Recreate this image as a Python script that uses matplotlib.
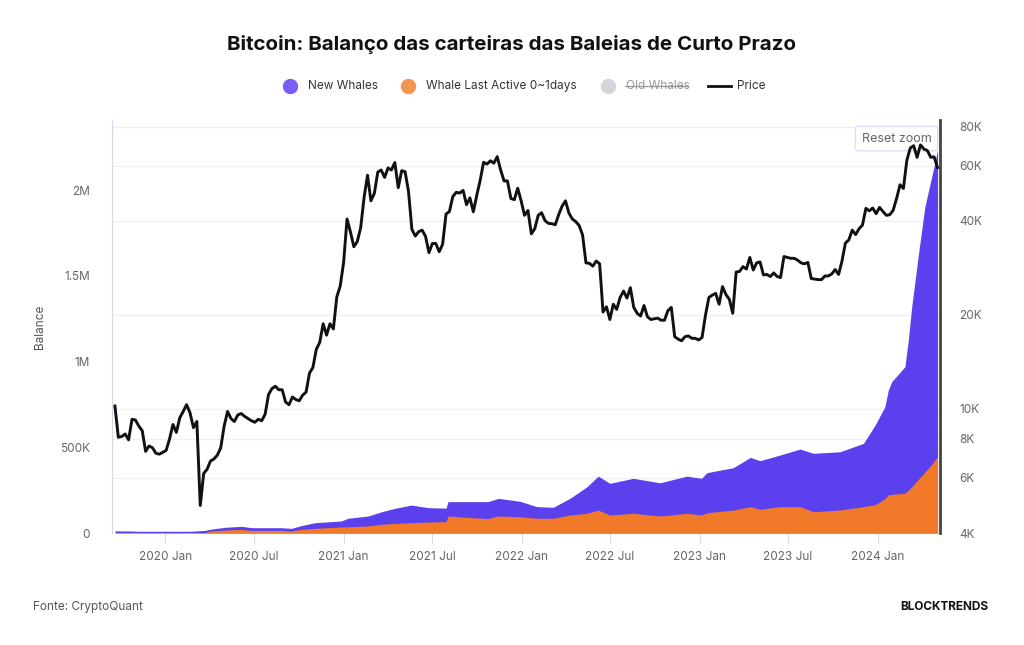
import pandas as pd
import numpy as np
import matplotlib
matplotlib.use("Agg")
import matplotlib.pyplot as plt
from matplotlib.lines import Line2D

plt.rcParams['font.family'] = ['Inter', 'DejaVu Sans']

# preço do BTC, semanal, a partir de 2019-09-20
price = [
    # 2019 set-dez
    10200, 8100, 8150, 8300, 7950, 9250, 9200, 8800, 8500, 7300, 7600, 7500, 7200, 7150, 7250,
    # 2020
    7350, 8000, 8900, 8400, 9350,
    9800, 10300, 9700, 8700,
    9100, 4900, 6200, 6400,
    6800, 6900, 7100, 7500,
    8800, 9800, 9300, 9100, 9550,
    9650, 9450, 9300, 9150,
    9050, 9250, 9150, 9600, 11100,
    11600, 11800, 11500, 11500,
    10500, 10300, 10900, 10700,
    10600, 11050, 11300, 13000, 13550,
    15500, 16300, 18700, 17200,
    18700, 18000, 22800, 24700,
    # 2021
    29400, 40500, 36800, 33000, 34300,
    38000, 47500, 55900, 46300,
    48900, 57200, 58100, 55000,
    59000, 58100, 61400, 51000, 57800,
    57400, 49700, 37500, 35700,
    36900, 37300, 35600, 31600,
    33800, 33800, 31800, 33600, 42000,
    42800, 47800, 49300, 49000,
    50000, 45000, 47300, 42700,
    48200, 53800, 61500, 60700, 62200,
    61100, 64100, 58100, 53600,
    53600, 47100, 46700, 50800, 46300,
    # 2022
    41600, 43100, 36300, 37700,
    41600, 42400, 40000, 39200,
    39100, 38800, 41800, 44500,
    46300, 42300, 40500, 39700, 38600,
    36000, 29300, 29200, 28600,
    29700, 29100, 20400, 21200,
    19300, 21600, 20800, 22700, 23800,
    22600, 24400, 21100, 20200,
    19800, 21400, 19700, 19300, 19400,
    19500, 19200, 19200, 20600,
    21100, 17000, 16700, 16500,
    17000, 17100, 16800, 16800, 16600,
    # 2023
    16900, 19900, 22700, 23100,
    23400, 21600, 24600, 23200,
    22400, 20200, 27400, 27500, 28500,
    28000, 30500, 27800, 29300,
    29500, 26800, 26900, 26500,
    27200, 26500, 26300, 30700, 30500,
    30300, 30300, 29900, 29300,
    29100, 29400, 26100, 26000,
    25900, 25900, 26600, 26600, 27000,
    27900, 26900, 29700, 33900,
    34700, 37300, 36100, 37700,
    38700, 43800, 43000, 43900, 42100,
    # 2024
    44100, 42800, 41600, 41800,
    43200, 47100, 52100, 50700,
    62400, 68300, 69500, 63800, 69900,
    67800, 67100, 63800, 64000, 59100,
]
price_dates = pd.date_range("2019-09-20", periods=len(price), freq="7D")

# saldo (BTC)
bal_dates = pd.to_datetime([
    "2019-09-20", "2019-10-21", "2019-11-07", "2020-02-20", "2020-03-22", "2020-04-05",
    "2020-05-02", "2020-06-05", "2020-06-26", "2020-08-26", "2020-09-16", "2020-10-06",
    "2020-11-03", "2020-12-27", "2021-01-10", "2021-02-20", "2021-03-20", "2021-04-16",
    "2021-05-20", "2021-06-23", "2021-07-30", "2021-08-03", "2021-09-13", "2021-10-24",
    "2021-11-14", "2021-12-29", "2022-02-01", "2022-03-07", "2022-04-10", "2022-05-15",
    "2022-06-07", "2022-07-01", "2022-08-18", "2022-10-12", "2022-12-06", "2023-01-05",
    "2023-01-16", "2023-03-11", "2023-04-15", "2023-05-05", "2023-06-15", "2023-07-26",
    "2023-08-22", "2023-10-16", "2023-12-03", "2023-12-27", "2024-01-16", "2024-01-23",
    "2024-01-30", "2024-02-26", "2024-03-04", "2024-03-11", "2024-03-25", "2024-04-07",
    "2024-04-21", "2024-05-03",
])
whale_0_1d = [
    0, 0, 0, 0, 3, 12, 17, 21, 15, 15, 12, 21,
    27, 35, 36, 41, 51, 56, 60, 64, 66, 99, 91, 84,
    99, 95, 86, 86, 105, 115, 134, 105, 115, 99, 115, 105,
    118, 134, 154, 138, 154, 154, 124, 134, 154, 165, 200, 222,
    225, 232, 250, 270, 315, 355, 400, 445,
]
new_whales = [
    12, 12, 10, 10, 12, 11, 16, 18, 16, 16, 15, 22,
    33, 35, 50, 58, 73, 88, 103, 84, 79, 84, 92, 99,
    103, 90, 68, 64, 97, 155, 198, 185, 204, 194, 217, 214,
    234, 247, 287, 284, 301, 336, 341, 340, 369, 465, 537, 612,
    658, 738, 876, 1050, 1317, 1549, 1679, 1789,
]

orange = np.array(whale_0_1d) * 1000
purple = orange + np.array(new_whales) * 1000

fig = plt.figure(figsize=(10.24, 6.45), dpi=100)
ax = fig.add_axes([112 / 1024, 1 - 533 / 645, 828 / 1024, 413 / 645])
axp = ax.twinx()

bal_top = 2.41e6
p_lo, p_hi = 4000, 84000
p_ticks = [4000, 6000, 8000, 10000, 20000, 40000, 60000, 80000]

# linhas de grade da escala do preço, por trás das barras
for t in p_ticks[1:]:
    ax.axhline(bal_top * np.log(t / p_lo) / np.log(p_hi / p_lo), color='#f0f0f3', lw=1, zorder=0)

ax.fill_between(bal_dates, 0, purple, color='#5b41ee', lw=0, zorder=2)
ax.fill_between(bal_dates, 0, orange, color='#f07a2a', lw=0, zorder=3)

axp.plot(price_dates, price, color='#111111', lw=2.1, zorder=5)
axp.set_yscale('log')
axp.set_ylim(p_lo, p_hi)
axp.set_yticks(p_ticks)
axp.set_yticklabels(['4K', '6K', '8K', '10K', '20K', '40K', '60K', '80K'])
axp.yaxis.set_minor_locator(plt.NullLocator())

ax.set_ylim(0, bal_top)
ax.set_yticks([0, 500000, 1000000, 1500000, 2000000])
ax.set_yticklabels(['0', '500K', '1M', '1.5M', '2M'])
ax.set_xlim(pd.Timestamp("2019-09-14"), pd.Timestamp("2024-05-08"))
xt = pd.to_datetime(["2020-01-01", "2020-07-01", "2021-01-01", "2021-07-01", "2022-01-01",
                     "2022-07-01", "2023-01-01", "2023-07-01", "2024-01-01"])
ax.set_xticks(xt)
ax.set_xticklabels([d.strftime("%Y %b") for d in xt])
ax.set_ylabel("Balance", color='#555555', fontsize=8.5, labelpad=10)

ax.tick_params(axis='y', length=0, labelcolor='#666666', labelsize=8.5, pad=16)
ax.tick_params(axis='x', length=7, color='#d9d9e3', labelcolor='#666666', labelsize=8.5, pad=6)
axp.tick_params(axis='y', length=0, labelcolor='#666666', labelsize=8.5, pad=14)

for a in (ax, axp):
    for s in a.spines.values():
        s.set_visible(False)
    a.patch.set_visible(False)
ax.spines['left'].set_visible(True)
ax.spines['left'].set_color('#d6d6e6')
axp.spines['right'].set_visible(True)
axp.spines['right'].set_color('#444444')
axp.spines['right'].set_linewidth(2)

# botão "Reset zoom"
axp.text(0.9475, 0.955, "Reset zoom", transform=ax.transAxes, ha='center', va='center',
         fontsize=9, color='#666666', zorder=1,
         bbox=dict(boxstyle='round,pad=0.5,rounding_size=0.2', fc='white', ec='#dcdff5', lw=1))

fig.text(0.5, 1 - 44 / 645, "Bitcoin: Balanço das carteiras das Baleias de Curto Prazo",
         ha='center', va='center', fontsize=14.8, fontweight='bold', color='#111111')

# legenda
ly = 1 - 86 / 645
items = [(290, '#7b5cf5', 'New Whales'), (408, '#f29452', 'Whale Last Active 0~1days'),
         (608, '#d4d4dd', 'Old Whales')]
for px, c, lab in items:
    fig.add_artist(Line2D([px / 1024], [ly], marker='o', ms=10, color=c, mec=c, lw=0))
    txt_col = '#999999' if lab == 'Old Whales' else '#333333'
    fig.text((px + 18) / 1024, ly, lab, ha='left', va='center', fontsize=8.5, color=txt_col)
fig.add_artist(Line2D([625 / 1024, 688 / 1024], [ly, ly], color='#999999', lw=0.9))
fig.add_artist(Line2D([708 / 1024, 731 / 1024], [ly, ly], color='#111111', lw=2))
fig.text(737 / 1024, ly, 'Price', ha='left', va='center', fontsize=8.5, color='#333333')

fig.text(33 / 1024, 1 - 607 / 645, "Fonte: CryptoQuant", ha='left', va='center',
         fontsize=8.5, color='#555555')
fig.text(988 / 1024, 1 - 607 / 645, "BLOCKTRENDS", ha='right', va='center',
         fontsize=8.5, fontweight='bold', color='#111111')

fig.savefig("out.png", dpi=100, facecolor='white')
